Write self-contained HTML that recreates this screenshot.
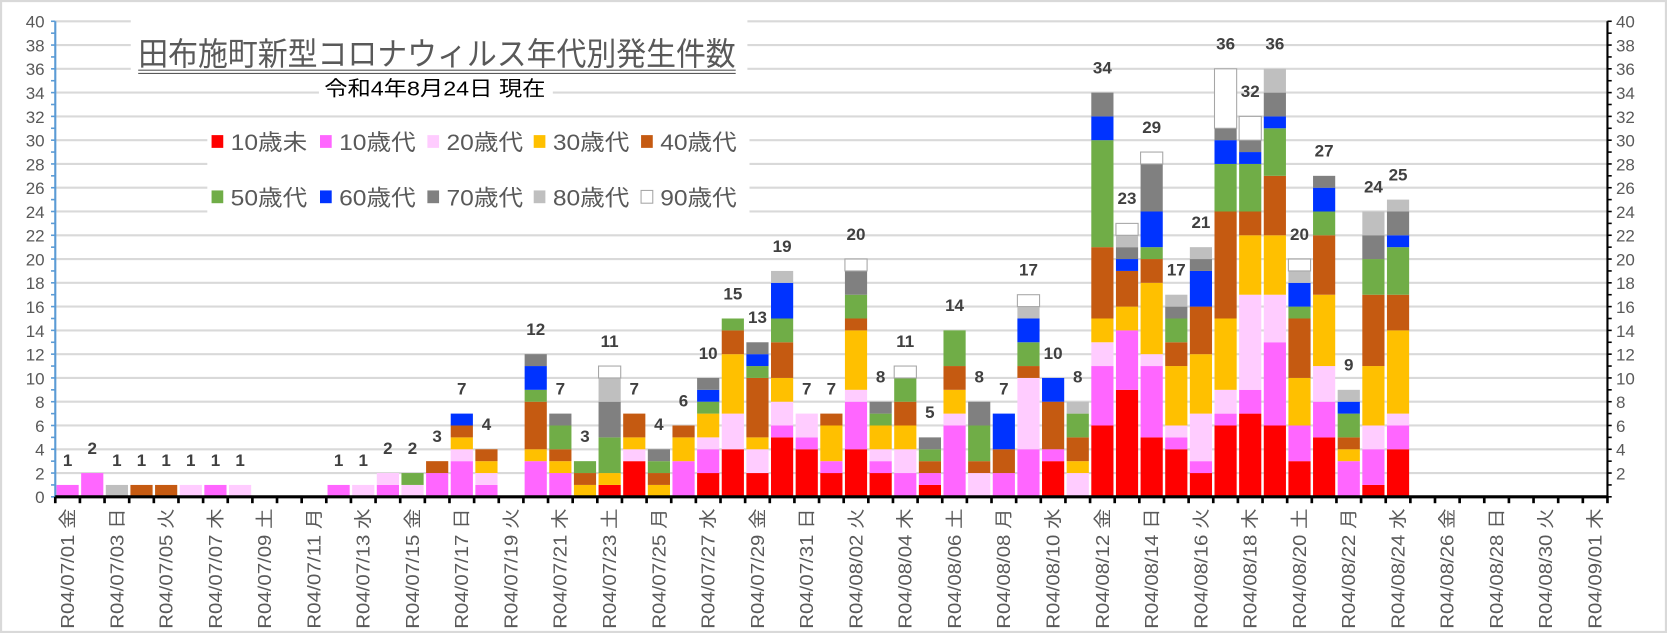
<!DOCTYPE html>
<html><head><meta charset="utf-8"><style>
html,body{margin:0;padding:0;background:#fff;}
svg{display:block;font-family:"Liberation Sans","Noto Sans CJK JP",sans-serif;}
</style></head><body>
<svg id="chart" width="1667" height="633" viewBox="0 0 1568 595" preserveAspectRatio="none" xmlns="http://www.w3.org/2000/svg">
<rect x="1" y="1" width="1566" height="593" fill="#fff" stroke="#d9d9d9" stroke-width="2"/>
<g id="grid"></g>
<g id="bars"></g>
<g id="axes"></g>
<g>
<rect x="123" y="18" width="580" height="52" fill="#fff"/>
<text x="130" y="61" font-size="30" fill="#595959" textLength="562" lengthAdjust="spacingAndGlyphs">田布施町新型コロナウィルス年代別発生件数</text>
<line x1="130" y1="66" x2="692" y2="66" stroke="#595959" stroke-width="1"/>
<line x1="130" y1="69" x2="692" y2="69" stroke="#595959" stroke-width="1"/>
<rect x="300" y="72" width="220" height="26" fill="#fff"/>
<text x="305" y="90" font-size="19" fill="#000" textLength="208" lengthAdjust="spacingAndGlyphs">令和4年8月24日 現在</text>
</g>
<g id="legend"></g>
</svg>
<script>
const categories = [];
(function(){const wd=["金","土","日","月","火","水","木"];for(let i=0;i<63;i++){const d=new Date(2022,6,1+i);categories.push("R04/"+String(d.getMonth()+1).padStart(2,"0")+"/"+String(d.getDate()).padStart(2,"0")+" "+wd[i%7]);}})();
const seriesNames = ["10歳未","10歳代","20歳代","30歳代","40歳代","50歳代","60歳代","70歳代","80歳代","90歳代"];
// per-day values: [10未,10代,20代,30代,40代,50代,60代,70代,80代,90代]
const dayValues = [
[0,1,0,0,0,0,0,0,0,0],[0,2,0,0,0,0,0,0,0,0],[0,0,0,0,0,0,0,0,1,0],[0,0,0,0,1,0,0,0,0,0],
[0,0,0,0,1,0,0,0,0,0],[0,0,1,0,0,0,0,0,0,0],[0,1,0,0,0,0,0,0,0,0],[0,0,1,0,0,0,0,0,0,0],
[0,0,0,0,0,0,0,0,0,0],[0,0,0,0,0,0,0,0,0,0],[0,0,0,0,0,0,0,0,0,0],
[0,1,0,0,0,0,0,0,0,0],[0,0,1,0,0,0,0,0,0,0],[0,1,1,0,0,0,0,0,0,0],[0,0,1,0,0,1,0,0,0,0],
[0,2,0,0,1,0,0,0,0,0],[0,3,1,1,1,0,1,0,0,0],[0,1,1,1,1,0,0,0,0,0],[0,0,0,0,0,0,0,0,0,0],
[0,3,0,1,4,1,2,1,0,0],[0,2,0,1,1,2,0,1,0,0],[0,0,0,1,1,1,0,0,0,0],[1,0,0,1,0,3,0,3,2,1],
[3,0,1,1,2,0,0,0,0,0],[0,0,0,1,1,1,0,1,0,0],[0,3,0,2,1,0,0,0,0,0],[2,2,1,2,0,1,1,1,0,0],
[4,0,3,5,2,1,0,0,0,0],[2,0,2,1,5,1,1,1,0,0],[5,1,2,2,3,2,3,0,1,0],[4,1,2,0,0,0,0,0,0,0],
[2,1,0,3,1,0,0,0,0,0],[4,4,1,5,1,2,0,2,0,1],[2,1,1,2,0,1,0,1,0,0],[0,2,2,2,2,2,0,0,0,1],
[1,1,0,0,1,1,0,1,0,0],[0,6,1,2,2,3,0,0,0,0],[0,0,2,0,1,3,0,2,0,0],[0,2,0,0,2,0,3,0,0,0],
[0,4,6,0,1,2,2,0,1,1],[3,1,0,0,4,0,2,0,0,0],[0,0,2,1,2,2,0,0,1,0],[6,5,2,2,6,9,2,2,0,0],
[9,5,0,2,3,0,1,1,1,1],[5,6,1,6,2,1,3,4,0,1],[4,1,1,5,2,2,0,1,1,0],[2,1,4,5,4,0,3,1,1,0],
[6,1,2,6,9,4,2,1,0,5],[7,2,8,5,2,4,1,1,0,2],[6,7,4,5,5,4,1,2,2,0],[3,3,0,4,5,1,2,0,1,1],
[5,3,3,6,5,2,2,1,0,0],[0,3,0,1,1,2,1,0,1,0],[1,3,2,5,6,3,0,2,2,0],[4,2,1,7,3,4,1,2,1,0]
];
const yTicks = [0,2,4,6,8,10,12,14,16,18,20,22,24,26,28,30,32,34,36,38,40];
const colors = ["#ff0000","#ff66ff","#ffccff","#ffc000","#c55a11","#70ad47","#0033ff","#808080","#bfbfbf","#ffffff"];
const NS="http://www.w3.org/2000/svg";
const L=52,R=1512,T=20,B=467,N=63,cw=(R-L)/N;
const y=v=>B-(B-T)*v/40;
const xc=i=>L+cw*(i+0.5);
function mk(tag,parent){const e=document.createElementNS(NS,tag);parent.appendChild(e);return e;}
const grid=document.getElementById('grid'),bars=document.getElementById('bars'),axes=document.getElementById('axes'),legend=document.getElementById('legend');
yTicks.forEach(t=>{if(t===0)return;const l=mk('line',grid);l.setAttribute('x1',L);l.setAttribute('x2',R);l.setAttribute('y1',y(t));l.setAttribute('y2',y(t));l.setAttribute('stroke','#d9d9d9');l.setAttribute('stroke-width','2');

});
dayValues.forEach((vals,i)=>{let acc=0;const bw=cw*0.9;vals.forEach((v,s)=>{if(!v)return;const r=mk('rect',bars);r.setAttribute('x',xc(i)-bw/2);r.setAttribute('width',bw);r.setAttribute('y',y(acc+v));r.setAttribute('height',y(acc)-y(acc+v));r.setAttribute('fill',colors[s]);if(s===9){r.setAttribute('stroke','#a6a6a6');r.setAttribute('stroke-width','1');}

acc+=v;});
if(acc>0){const t=mk('text',bars);t.setAttribute('x',xc(i));t.setAttribute('y',y(acc)-18);t.setAttribute('text-anchor','middle');t.setAttribute('font-size','16');t.setAttribute('font-weight','bold');t.setAttribute('fill','#404040');t.textContent=acc;

}});
let a=mk('line',axes);a.setAttribute('x1',L);a.setAttribute('x2',L);a.setAttribute('y1',T);a.setAttribute('y2',B);a.setAttribute('stroke','#5b9bd5');a.setAttribute('stroke-width','2');


a=mk('line',axes);a.setAttribute('x1',R);a.setAttribute('x2',R);a.setAttribute('y1',T);a.setAttribute('y2',B);a.setAttribute('stroke','#000');a.setAttribute('stroke-width','2');


for(let v=0;v<=40;v++){const l=mk('line',axes);l.setAttribute('x1',L-4);l.setAttribute('x2',L);l.setAttribute('y1',y(v));l.setAttribute('y2',y(v));l.setAttribute('stroke','#5b9bd5');l.setAttribute('stroke-width','1.5');
const r=mk('line',axes);r.setAttribute('x1',R);r.setAttribute('x2',R+4);r.setAttribute('y1',y(v));r.setAttribute('y2',y(v));r.setAttribute('stroke','#000');r.setAttribute('stroke-width','1.5');}
yTicks.forEach(t=>{const e=mk('text',axes);e.setAttribute('x',L-10);e.setAttribute('y',y(t)+6);e.setAttribute('text-anchor','end');e.setAttribute('font-size','16');e.setAttribute('fill','#595959');e.textContent=t;


if(t>0){const f=mk('text',axes);f.setAttribute('x',R+8);f.setAttribute('y',y(t)+6);f.setAttribute('font-size','16');f.setAttribute('fill','#595959');f.textContent=t;

}});
a=mk('line',axes);a.setAttribute('x1',L);a.setAttribute('x2',R);a.setAttribute('y1',B);a.setAttribute('y2',B);a.setAttribute('stroke','#000');a.setAttribute('stroke-width','3');


for(let i=0;i<=N;i++){const l=mk('line',axes);l.setAttribute('x1',L+cw*i);l.setAttribute('x2',L+cw*i);l.setAttribute('y1',B);l.setAttribute('y2',B+6);l.setAttribute('stroke','#000');l.setAttribute('stroke-width','2.5');}
categories.forEach((c,i)=>{if(i%2)return;const t=mk('text',axes);const x=xc(i)+6;t.setAttribute('transform','translate('+x+',478) rotate(-90)');t.setAttribute('text-anchor','end');t.setAttribute('font-size','17');t.setAttribute('fill','#595959');t.setAttribute('textLength','113');t.setAttribute('lengthAdjust','spacingAndGlyphs');t.textContent=c;

});
let bg=mk('rect',legend);bg.setAttribute('x',195);bg.setAttribute('y',112);bg.setAttribute('width',510);bg.setAttribute('height',92);bg.setAttribute('fill','#fff');
const lx=[199,301,402,502,603];
seriesNames.forEach((n,s)=>{const g=mk('g',legend);


const col=s%5,row=Math.floor(s/5);const cy=row?185:133;
const r=mk('rect',g);r.setAttribute('x',lx[col]);r.setAttribute('y',cy-6);r.setAttribute('width',11);r.setAttribute('height',12);r.setAttribute('fill',colors[s]);if(s===9){r.setAttribute('stroke','#a6a6a6');r.setAttribute('stroke-width','1');}
const t=mk('text',g);t.setAttribute('x',lx[col]+18);t.setAttribute('y',cy+8);t.setAttribute('font-size','21');t.setAttribute('fill','#595959');t.setAttribute('textLength','72');t.setAttribute('lengthAdjust','spacingAndGlyphs');t.textContent=n;});
</script>
</body></html>
